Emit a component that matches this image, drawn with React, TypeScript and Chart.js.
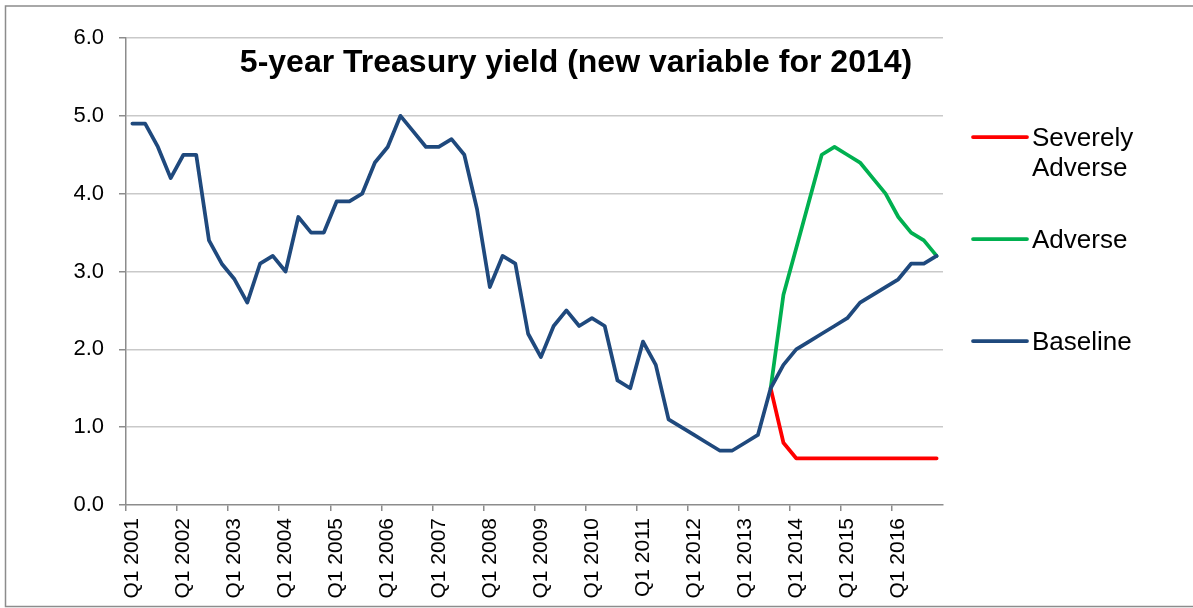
import React, { useEffect, useRef } from "react";
import { Chart, registerables } from "chart.js";

Chart.register(...registerables);

const TITLE = "5-year Treasury yield (new variable for 2014)";

const years = [2001, 2002, 2003, 2004, 2005, 2006, 2007, 2008, 2009, 2010, 2011, 2012, 2013, 2014, 2015, 2016];
const quarters = ["Q1", "Q2", "Q3", "Q4"];
const quarterLabels = years.flatMap((y) => quarters.map((q) => `${q} ${y}`));

const baseline = [
  4.9, 4.9, 4.6, 4.2, 4.5, 4.5, 3.4, 3.1, 2.9, 2.6,
  3.1, 3.2, 3.0, 3.7, 3.5, 3.5, 3.9, 3.9, 4.0, 4.4,
  4.6, 5.0, 4.8, 4.6, 4.6, 4.7, 4.5, 3.8, 2.8, 3.2,
  3.1, 2.2, 1.9, 2.3, 2.5, 2.3, 2.4, 2.3, 1.6, 1.5,
  2.1, 1.8, 1.1, 1.0, 0.9, 0.8, 0.7, 0.7, 0.8, 0.9,
  1.5, 1.8, 2.0, 2.1, 2.2, 2.3, 2.4, 2.6, 2.7, 2.8,
  2.9, 3.1, 3.1, 3.2,
];

// Scenario paths, starting at Q3 2013 (where they branch off the baseline)
const adverseValues = [1.5, 2.7, 3.3, 3.9, 4.5, 4.6, 4.5, 4.4, 4.2, 4.0, 3.7, 3.5, 3.4, 3.2];
const severeValues = [1.5, 0.8, 0.6, 0.6, 0.6, 0.6, 0.6, 0.6, 0.6, 0.6, 0.6, 0.6, 0.6, 0.6];

const yTicks = [0, 1, 2, 3, 4, 5, 6];

const seriesNames = ["Severely Adverse", "Adverse", "Baseline"];
const legendLines = [["Severely", "Adverse"], ["Adverse"], ["Baseline"]];
const colors = ["#FF0000", "#00B050", "#1F497D"];

const FONT = "'Liberation Sans', Arial, Helvetica, sans-serif";

const pad = (vals: number[]) => [
  ...new Array(baseline.length - vals.length).fill(null),
  ...vals,
];

const framePlugin = {
  id: "frame",
  beforeDraw(chart: any) {
    const { ctx } = chart;
    ctx.save();
    ctx.fillStyle = "#ffffff";
    ctx.fillRect(0, 0, chart.width, chart.height);
    ctx.strokeStyle = "#8c8c8c";
    ctx.lineWidth = 1.5;
    ctx.strokeRect(5.5, 6, chart.width + 20, 600.5);
    ctx.restore();
  },
};

const insideTitlePlugin = {
  id: "insideTitle",
  afterDraw(chart: any) {
    const { ctx, chartArea } = chart;
    ctx.save();
    ctx.font = `bold 32px ${FONT}`;
    ctx.fillStyle = "#000000";
    ctx.textAlign = "center";
    ctx.textBaseline = "alphabetic";
    ctx.fillText(TITLE, chartArea.left + 450, chartArea.top + 34);
    ctx.restore();
  },
};

const sideLegendPlugin = {
  id: "sideLegend",
  afterDraw(chart: any) {
    const { ctx, chartArea } = chart;
    ctx.save();
    ctx.font = `26px ${FONT}`;
    ctx.fillStyle = "#000000";
    ctx.textAlign = "left";
    ctx.textBaseline = "alphabetic";
    legendLines.forEach((lines, k) => {
      const y = chartArea.top + 99 + k * 102;
      const x0 = chartArea.right + 30;
      ctx.strokeStyle = colors[k];
      ctx.lineWidth = 3.75;
      ctx.lineCap = "round";
      ctx.beginPath();
      ctx.moveTo(x0, y);
      ctx.lineTo(x0 + 54, y);
      ctx.stroke();
      lines.forEach((t, j) => {
        ctx.fillText(t, x0 + 59, y + 9.3 + j * 30);
      });
    });
    ctx.restore();
  },
};

export default function App() {
  const canvasRef = useRef<HTMLCanvasElement | null>(null);

  useEffect(() => {
    document.body.style.margin = "0";
    const canvas = canvasRef.current;
    if (!canvas) return;
    Chart.defaults.font.family = FONT;
    Chart.defaults.color = "#000000";

    const lineCommon = {
      pointRadius: 0,
      pointHoverRadius: 0,
      borderWidth: 3.75,
      tension: 0,
      fill: false,
      borderJoinStyle: "round" as const,
      borderCapStyle: "round" as const,
    };

    const chart = new Chart(canvas, {
      type: "line",
      data: {
        labels: quarterLabels,
        datasets: [
          { ...lineCommon, label: seriesNames[0], data: pad(severeValues), borderColor: colors[0], backgroundColor: colors[0], order: 3 },
          { ...lineCommon, label: seriesNames[1], data: pad(adverseValues), borderColor: colors[1], backgroundColor: colors[1], order: 2 },
          { ...lineCommon, label: seriesNames[2], data: baseline, borderColor: colors[2], backgroundColor: colors[2], order: 1 },
        ],
      },
      options: {
        responsive: false,
        animation: false,
        layout: { padding: { top: 38, right: 250, left: 0, bottom: 0 } },
        plugins: {
          legend: { display: false },
          title: { display: false },
          tooltip: { enabled: false },
        },
        scales: {
          x: {
            type: "category",
            offset: true,
            grid: {
              offset: true,
              drawOnChartArea: false,
              drawTicks: true,
              tickLength: 6,
              lineWidth: 1.5,
              color: (ctx: any) => (ctx.index % 4 === 0 ? "#8c8c8c" : "rgba(0,0,0,0)"),
              tickColor: (ctx: any) => (ctx.index % 4 === 0 ? "#8c8c8c" : "rgba(0,0,0,0)"),
            },
            border: { display: true, color: "#8c8c8c", width: 1.5 },
            ticks: {
              autoSkip: false,
              minRotation: 90,
              maxRotation: 90,
              padding: 7,
              font: { size: 21, family: FONT },
              color: "#000000",
              callback: (_v: any, i: number) => (i % 4 === 0 ? quarterLabels[i] : ""),
            },
            afterFit: (scale: any) => {
              scale.height = 103;
            },
          },
          y: {
            min: yTicks[0],
            max: yTicks[yTicks.length - 1],
            afterBuildTicks: (scale: any) => {
              scale.ticks = yTicks.map((v) => ({ value: v }));
            },
            grid: {
              color: (ctx: any) => (ctx.tick && ctx.tick.value === 0 ? "rgba(0,0,0,0)" : "#c9c9c9"),
              lineWidth: 1.5,
              tickLength: 7,
              tickColor: "#8c8c8c",
            },
            border: { display: true, color: "#8c8c8c", width: 1.5 },
            ticks: {
              padding: 15,
              font: { size: 22, family: FONT },
              color: "#000000",
              callback: (v: any) => Number(v).toFixed(1),
            },
            afterFit: (scale: any) => {
              scale.width = 126;
            },
          },
        },
      },
      plugins: [framePlugin, insideTitlePlugin, sideLegendPlugin],
    });

    return () => chart.destroy();
  }, []);

  return (
    <div style={{ width: 1193, height: 608, position: "relative" }}>
      <canvas ref={canvasRef} width={1193} height={608} style={{ display: "block" }} />
    </div>
  );
}
